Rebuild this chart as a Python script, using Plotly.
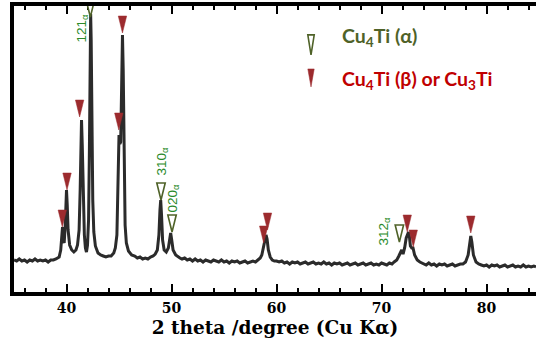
import plotly.graph_objects as go

# ---- diffraction profile (2 theta in deg, intensity in a.u.) ----
tt_a = [35.0, 35.25, 35.5, 35.75, 36.0, 36.25, 36.5, 36.75, 37.0, 37.25, 37.5, 37.75, 38.0,
        38.25, 38.5, 38.75, 39.0]
in_a = [32, 31, 33, 31, 32, 30, 32, 31, 33, 31, 32, 31, 32, 30, 32, 32, 33]

tt_b = [39.3, 39.45, 39.55, 39.62, 39.7, 39.78, 39.88, 39.95, 40.0, 40.07, 40.15, 40.3, 40.5,
        40.7, 40.9, 41.05, 41.2, 41.3, 41.38, 41.43, 41.5, 41.58, 41.7, 41.8, 41.9, 42.0, 42.1,
        42.18, 42.25, 42.3, 42.35, 42.42, 42.5, 42.6, 42.75]
in_b = [35, 42, 57, 65, 52, 49, 67, 92, 102, 87, 62, 47, 42, 40, 42, 47, 62, 102, 152, 172,
        147, 92, 57, 44, 40, 47, 72, 142, 232, 278, 252, 162, 92, 60, 46]

tt_c = [43.0, 43.25, 43.5, 43.75, 44.0, 44.25, 44.5, 44.65, 44.8, 44.92, 45.0, 45.08, 45.16,
        45.25, 45.33, 45.4, 45.48, 45.58, 45.7, 45.9]
in_c = [39, 37, 36, 35, 36, 36, 39, 44, 57, 117, 157, 148, 150, 205, 257, 222, 122, 67, 49, 41]

tt_d = [46.2, 46.5, 46.75, 47.0, 47.25, 47.5, 47.75, 48.0, 48.25, 48.45, 48.65, 48.8, 48.9,
        48.97, 49.05, 49.15, 49.3, 49.5, 49.7, 49.82, 49.92, 50.02, 50.15, 50.4]
in_d = [37, 36, 34, 35, 33, 34, 33, 35, 36, 38, 42, 57, 82, 92, 77, 52, 42, 40, 44, 52, 59,
        52, 42, 37]

tt_e = [50.6, 50.8, 51.0, 51.25, 51.5, 51.75, 52.0, 52.25, 52.5, 52.75, 53.0, 53.25, 53.5,
        53.75, 54.0, 54.25, 54.5, 54.75, 55.0, 55.25, 55.5, 55.75, 56.0, 56.25, 56.5, 56.75,
        57.0, 57.25, 57.5, 57.75, 58.0, 58.25, 58.45]
in_e = [35, 34, 33, 34, 32, 33, 31, 33, 31, 32, 30, 32, 31, 30, 32, 31, 30, 32, 30, 31, 29,
        31, 30, 31, 29, 30, 31, 29, 30, 31, 30, 32, 34]

tt_f = [58.6, 58.75, 58.88, 59.0, 59.1, 59.22, 59.4, 59.6, 59.8]
in_f = [37, 44, 53, 57, 53, 42, 35, 32, 31]

tt_g = [60.0, 60.25, 60.5, 60.75, 61.0, 61.25, 61.5, 61.75, 62.0, 62.25, 62.5, 62.75, 63.0,
        63.25, 63.5, 63.75, 64.0, 64.25, 64.5, 64.75, 65.0, 65.25, 65.5, 65.75, 66.0, 66.25,
        66.5, 66.75, 67.0, 67.25, 67.5, 67.75, 68.0, 68.25, 68.5, 68.75, 69.0, 69.25, 69.5,
        69.75, 70.0, 70.25, 70.5, 70.75, 71.0, 71.2]
in_g = [31, 30, 31, 29, 30, 28, 30, 29, 30, 28, 29, 30, 28, 29, 30, 28, 29, 28, 30, 28, 29,
        27, 29, 28, 29, 27, 28, 29, 27, 28, 29, 27, 28, 29, 27, 28, 29, 27, 28, 27, 29, 28,
        27, 29, 28, 30]

tt_h = [71.45, 71.65, 71.8, 71.92, 72.05, 72.2, 72.35, 72.5, 72.57, 72.65, 72.75, 72.88, 73.0,
        73.15, 73.4, 73.65, 73.85]
in_h = [32, 36, 40, 42, 38, 44, 54, 58, 60, 56, 46, 44, 44, 37, 32, 30, 29]

tt_i = [74.0, 74.25, 74.5, 74.75, 75.0, 75.25, 75.5, 75.75, 76.0, 76.25, 76.5, 76.75, 77.0,
        77.25, 77.5, 77.75, 78.0, 78.25, 78.4, 78.5, 78.6, 78.75, 79.0]
in_i = [28, 27, 29, 27, 28, 26, 28, 27, 28, 26, 27, 28, 26, 27, 28, 28, 30, 37, 49, 56, 50,
        37, 30]

tt_j = [79.25, 79.5, 79.75, 80.0, 80.25, 80.5, 80.75, 81.0, 81.25, 81.5, 81.75, 82.0, 82.25,
        82.5, 82.75, 83.0, 83.25, 83.5, 83.75, 84.0, 84.25, 84.5, 84.71]
in_j = [28, 27, 26, 27, 25, 27, 26, 27, 25, 26, 27, 25, 26, 27, 25, 26, 25, 27, 25, 26, 25,
        26, 25]

segments = [(tt_a, in_a), (tt_b, in_b), (tt_c, in_c), (tt_d, in_d), (tt_e, in_e), (tt_f, in_f),
            (tt_g, in_g), (tt_h, in_h), (tt_i, in_i), (tt_j, in_j)]
two_theta, intensity = [], []
for sx, sy in segments:
    assert len(sx) == len(sy), (len(sx), len(sy))
    two_theta += sx
    intensity += sy

# peak markers: position (deg) and intensity at the marker tip
alpha_pos = [42.27, 49.0, 50.05, 71.7]
alpha_tip = [275, 92, 60, 50]
beta_pos = [39.6, 40.05, 41.25, 44.98, 45.33, 58.78, 59.14, 72.45, 73.02, 78.5]
beta_tip = [65, 102, 175, 162, 259, 49, 62, 60, 45, 59]

peak_labels = ["121", "310", "020", "312"]

x_ticks = [40, 50, 60, 70, 80]
x_range = [35, 84.71]
y_range = [0, 286]

GREEN_EDGE = "#4f6228"
GREEN_TEXT = "#2a8a2a"
RED_FILL = "#9c2b2e"
RED_TEXT = "#c00000"

fig = go.Figure()
fig.add_trace(go.Scatter(x=two_theta, y=intensity, mode="lines",
                         line=dict(color="#2b2b2b", width=3), showlegend=False,
                         hoverinfo="skip"))

shapes = []
W, H = 4.2, 17
def tri(xa, ya, xref, yref, fill, edge, w=W, h=H):
    return dict(type="path", xref=xref, yref=yref, xsizemode="pixel", ysizemode="pixel",
                xanchor=xa, yanchor=ya,
                path=f"M {-w},{h} L {w},{h} L 0,0 Z",
                fillcolor=fill, line=dict(color=edge, width=1.6 if fill == "white" else 0.5))

for p, t in zip(beta_pos, beta_tip):
    shapes.append(tri(p, t, "x", "y", RED_FILL, RED_FILL))
for p, t in zip(alpha_pos, alpha_tip):
    shapes.append(tri(p, t, "x", "y", "white", GREEN_EDGE))

# legend symbols
shapes.append(tri(0.569, 0.829, "paper", "paper", "white", GREEN_EDGE, w=3.2, h=20))
shapes.append(tri(0.569, 0.717, "paper", "paper", RED_FILL, RED_FILL, w=3.2, h=18))

annotations = []
lab_pos = [(41.43, 264), (49.05, 131), (50.1, 94), (70.19, 61)]
for lab, (lx, ly) in zip(peak_labels, lab_pos):
    annotations.append(dict(x=lx, y=ly, xref="x", yref="y", text=f"{lab}<sub>α</sub>",
                            textangle=-90, showarrow=False, xanchor="center", yanchor="middle",
                            font=dict(family="Liberation Sans", size=13.5, color=GREEN_TEXT)))

annotations.append(dict(x=0.6245, y=0.8916, xref="paper", yref="paper",
                        text="Cu<sub>4</sub>Ti (α)", showarrow=False,
                        xanchor="left", yanchor="middle",
                        font=dict(family="Lato", size=19.5, color=GREEN_EDGE, weight="bold")))
annotations.append(dict(x=0.6245, y=0.7413, xref="paper", yref="paper",
                        text="Cu<sub>4</sub>Ti (β) or Cu<sub>3</sub>Ti", showarrow=False,
                        xanchor="left", yanchor="middle",
                        font=dict(family="Lato", size=19.5, color=RED_TEXT, weight="bold")))

fig.update_layout(
    width=536, height=345,
    margin=dict(l=14, r=0, t=6, b=53),
    paper_bgcolor="white", plot_bgcolor="white",
    shapes=shapes, annotations=annotations,
    xaxis=dict(range=x_range, tickvals=x_ticks, ticks="inside", ticklen=8, tickwidth=2,
               tickcolor="black", showline=True, linewidth=3.5, linecolor="black",
               mirror="allticks", showgrid=False, zeroline=False,
               minor=dict(dtick=2, tick0=0, ticks="inside", ticklen=4, tickwidth=1.5,
                          tickcolor="black"),
               tickfont=dict(family="DejaVu Serif", size=14, color="black", weight="bold"),
               title=dict(text="2 theta /degree (Cu Kα)", standoff=8,
                          font=dict(family="DejaVu Serif", size=18.5, color="black",
                                    weight="bold"))),
    yaxis=dict(range=y_range, showticklabels=False, ticks="", showline=True, linewidth=3.5,
               linecolor="black", showgrid=False, zeroline=False),
)

fig.write_html("out.html")
